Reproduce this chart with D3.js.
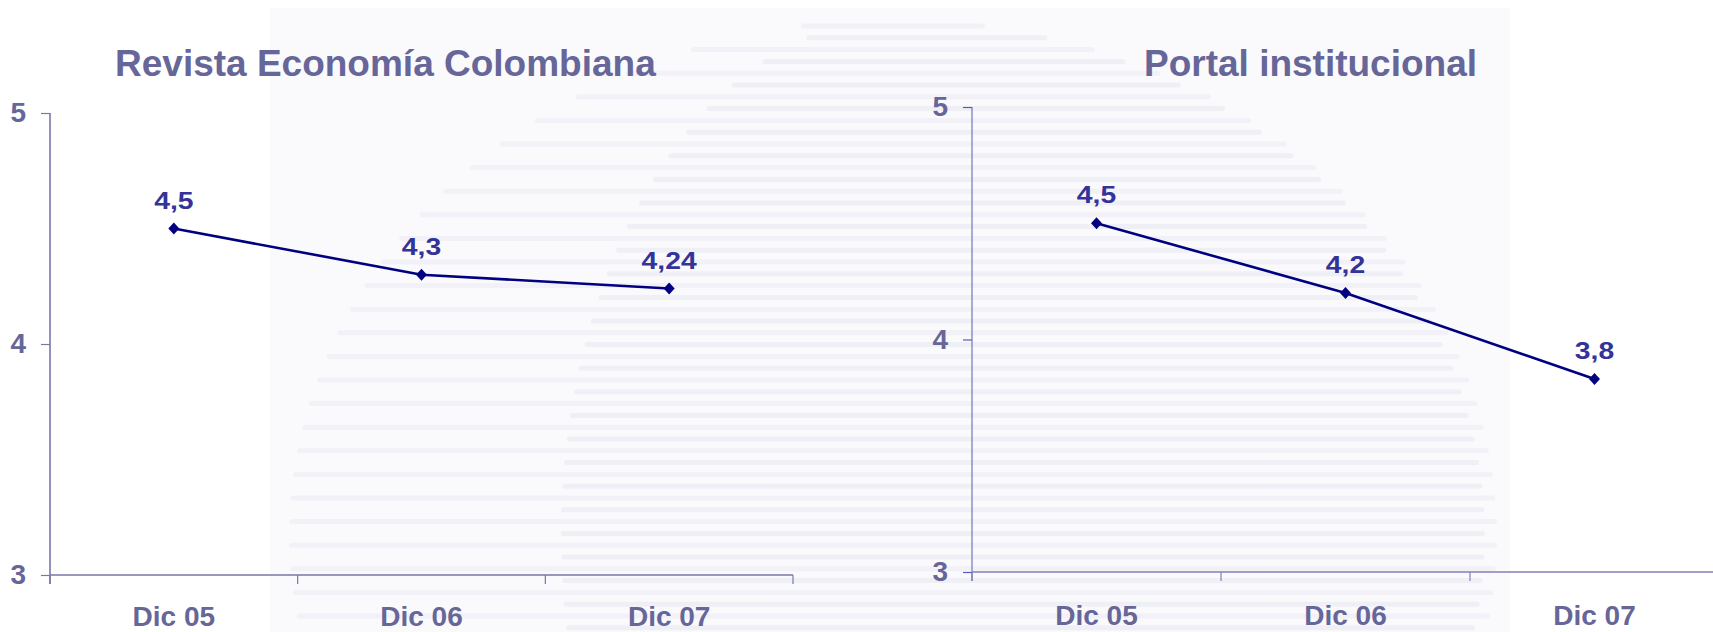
<!DOCTYPE html>
<html>
<head>
<meta charset="utf-8">
<script src="https://cdn.jsdelivr.net/npm/d3@7"></script>
<style>
  html, body { margin: 0; padding: 0; background: #ffffff; }
  svg { display: block; }
  text { font-family: "Liberation Sans", Arial, Helvetica, sans-serif; font-weight: bold; }
</style>
</head>
<body>
<svg id="chart" width="1713" height="632"></svg>
<script>
// ---- data ----
const categories = ["Dic 05", "Dic 06", "Dic 07"];
const revistaTitle = "Revista Economía Colombiana";
const revistaValues = [4.5, 4.3, 4.24];
const revistaLabels = ["4,5", "4,3", "4,24"];
const portalTitle = "Portal institucional";
const portalValues = [4.5, 4.2, 3.83];
const portalLabels = ["4,5", "4,2", "3,8"];
const yDomain = [3, 5];
const yTickValues = [3, 4, 5];

// ---- style ----
const titleColor = "#666699";
const tickColor = "#666699";
const valueColor = "#333399";
const lineColor = "#000080";

const svg = d3.select("#chart");

// faint watermark background
const bg = svg.append("g");
bg.append("rect").attr("x", 270).attr("y", 8).attr("width", 1240).attr("height", 624).attr("fill", "#fafafc");
const wm = { cx: 893, cy: 535, rx: 604, ry: 515 };
const rows = d3.range(26, 632, 11.8);
rows.forEach((yy, i) => {
  const dy = (yy - wm.cy) / wm.ry;
  if (Math.abs(dy) >= 1) return;
  const hw = wm.rx * Math.sqrt(1 - dy * dy);
  let x0 = wm.cx - hw, x1 = wm.cx + hw;
  if (i % 2 === 1) { x0 = wm.cx - hw * 0.55; x1 = wm.cx + hw * 0.98; }
  bg.append("rect")
    .attr("x", x0).attr("y", yy - 2.5)
    .attr("width", x1 - x0).attr("height", 5)
    .attr("rx", 2.5)
    .attr("fill", i % 2 === 1 ? "#efeff6" : "#f1f1f7");
});

function drawChart(cfg) {
  const g = svg.append("g");
  const x = d3.scaleBand().domain(categories).range(cfg.xRange).padding(0);
  const y = d3.scaleLinear().domain(yDomain).range(cfg.yRange);
  const x0 = cfg.xRange[0], x1 = cfg.xRange[1];
  const yBase = y(yDomain[0]);

  // title
  g.append("text")
    .attr("x", cfg.titleX).attr("y", cfg.titleY)
    .attr("fill", titleColor).attr("font-size", 37)
    .text(cfg.title);

  // y axis
  const yAxis = g.append("g")
    .attr("transform", `translate(${x0},0)`)
    .call(d3.axisLeft(y).tickValues(yTickValues).tickSize(9).tickPadding(15).tickFormat(d3.format("d")));
  yAxis.select(".domain").remove();
  yAxis.selectAll(".tick line").attr("stroke", cfg.yAxisColor).attr("stroke-width", 1.2);
  yAxis.selectAll(".tick text")
    .attr("fill", tickColor).attr("font-size", 28)
    .style("font-family", '"Liberation Sans", Arial, sans-serif').style("font-weight", "bold");
  g.append("line")
    .attr("x1", x0).attr("x2", x0).attr("y1", y(yDomain[1])).attr("y2", yBase + 9)
    .attr("stroke", cfg.yAxisColor).attr("stroke-width", cfg.yAxisWidth);

  // x axis
  const xAxis = g.append("g")
    .attr("transform", `translate(0,${yBase})`)
    .call(d3.axisBottom(x).tickSize(0));
  xAxis.select(".domain").remove();
  xAxis.selectAll(".tick text")
    .attr("y", Math.min(53, 626 - yBase)).attr("dy", null)
    .attr("fill", tickColor).attr("font-size", 28)
    .style("font-family", '"Liberation Sans", Arial, sans-serif').style("font-weight", "bold");
  g.append("line")
    .attr("x1", x0).attr("x2", x1).attr("y1", yBase).attr("y2", yBase)
    .attr("stroke", cfg.xAxisColor).attr("stroke-width", 1.6);
  const bounds = categories.map(c => x(c)).concat([x1]);
  g.selectAll(".btick").data(bounds).enter().append("line")
    .attr("x1", d => d).attr("x2", d => d)
    .attr("y1", yBase).attr("y2", yBase + 9)
    .attr("stroke", cfg.xAxisColor).attr("stroke-width", 1.2);

  // line
  const pts = categories.map((c, i) => ({ c, v: cfg.values[i], label: cfg.labels[i] }));
  const line = d3.line().x(d => x(d.c) + x.bandwidth() / 2).y(d => y(d.v));
  g.append("path").datum(pts)
    .attr("d", line).attr("fill", "none")
    .attr("stroke", lineColor).attr("stroke-width", 2.6);

  // markers
  g.selectAll(".mk").data(pts).enter().append("path")
    .attr("transform", d => `translate(${x(d.c) + x.bandwidth() / 2},${y(d.v)})`)
    .attr("d", "M0,-6L5.5,0L0,6L-5.5,0Z")
    .attr("fill", lineColor);

  // value labels
  g.selectAll(".vl").data(pts).enter().append("text")
    .attr("transform", d => `translate(${x(d.c) + x.bandwidth() / 2},${y(d.v) - 20}) scale(1.18,1)`)
    .attr("text-anchor", "middle")
    .attr("fill", valueColor).attr("font-size", 24)
    .text(d => d.label);
}

drawChart({
  title: revistaTitle, titleX: 115, titleY: 76,
  values: revistaValues, labels: revistaLabels,
  xRange: [50, 793], yRange: [575, 113],
  yAxisColor: "#7777aa", yAxisWidth: 1.6, xAxisColor: "#7777aa"
});

drawChart({
  title: portalTitle, titleX: 1144, titleY: 76,
  values: portalValues, labels: portalLabels,
  xRange: [972, 1719], yRange: [572, 107],
  yAxisColor: "#5a5ab8", yAxisWidth: 1, xAxisColor: "#8080b8"
});
</script>
</body>
</html>
